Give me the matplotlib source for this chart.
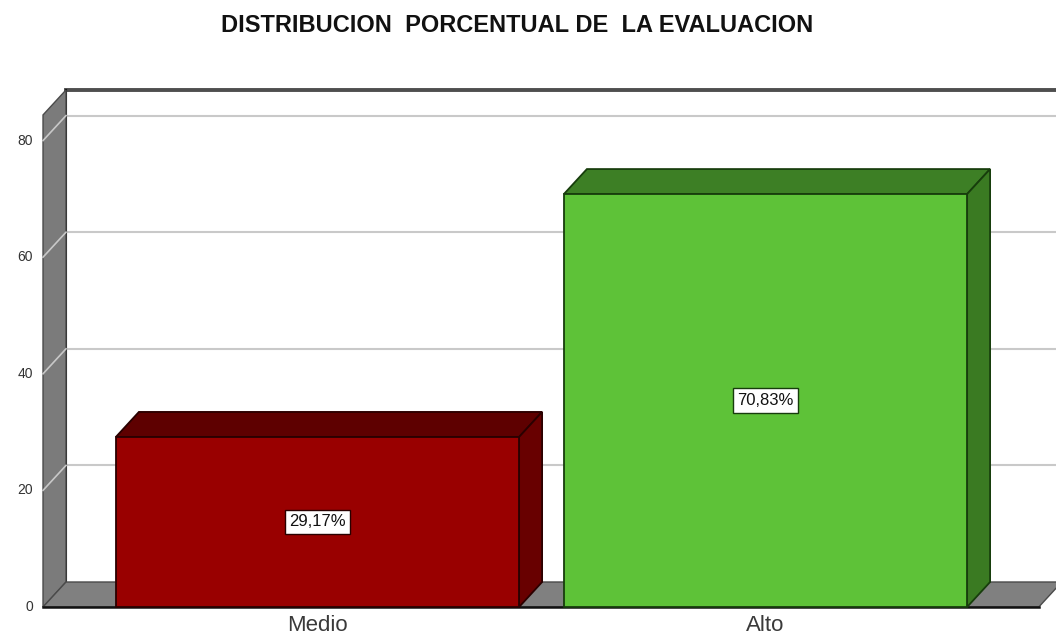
import matplotlib
matplotlib.use('Agg')
import matplotlib.pyplot as plt
from matplotlib.patches import Polygon
import numpy as np

matplotlib.rcParams['font.family'] = ['Liberation Sans', 'DejaVu Sans']

title = 'DISTRIBUCION  PORCENTUAL DE  LA EVALUACION'
categories = ['Medio', 'Alto']
percentages = [29.17, 70.83]
yticks = [0, 20, 40, 60, 80]

front_colors = ['#990000', '#5ec238']
top_colors = ['#5e0000', '#3d7f25']
side_colors = ['#680000', '#3a7a22']
edge_colors = ['#2a0000', '#173d0c']

# layout (data units; one category step = 448 px, one percent = 5.83 px)
PX_X, PX_Y = 448.0, 5.83
BAR_W = 0.9
DX, DY = 23 / PX_X, 25 / PX_Y
X_LEFT, X_RIGHT = -0.6127, 1.61
Y_TOP = 84.4


def box3d(ax, x0, x1, h, front, top, side, edge, zorder=5):
    faces = [
        ([(x0, h), (x1, h), (x1 + DX, h + DY), (x0 + DX, h + DY)], top),
        ([(x1, 0), (x1 + DX, DY), (x1 + DX, h + DY), (x1, h)], side),
        ([(x0, 0), (x1, 0), (x1, h), (x0, h)], front),
    ]
    for pts, c in faces:
        ax.add_patch(Polygon(pts, closed=True, fc=c, ec=edge, lw=1.3,
                             joinstyle='miter', zorder=zorder))


def main():
    fig = plt.figure(figsize=(10.56, 6.44), dpi=100)
    ax = fig.add_axes([0, 0, 1, 1])
    ax.set_xlim(-317.5 / PX_X, (1056 - 317.5) / PX_X)
    ax.set_ylim(-37 / PX_Y, 607 / PX_Y)
    ax.axis('off')

    # back plane
    ax.add_patch(Polygon([(X_LEFT + DX, DY), (X_RIGHT + DX, DY),
                          (X_RIGHT + DX, Y_TOP + DY), (X_LEFT + DX, Y_TOP + DY)],
                         closed=True, fc='white', ec='none', zorder=1))
    for v in yticks[1:]:
        ax.plot([X_LEFT + DX, X_RIGHT + DX], [v + DY, v + DY], color='#c9c9c9', lw=1.5, zorder=2)
    ax.plot([X_LEFT + DX, X_RIGHT + DX + 0.2], [Y_TOP + DY, Y_TOP + DY],
            color='#4e4e4e', lw=2.8, zorder=2)
    ax.plot([X_LEFT + DX, X_LEFT + DX], [DY, Y_TOP + DY], color='#111111', lw=1.5, zorder=2)

    # left wall
    ax.add_patch(Polygon([(X_LEFT, 0), (X_LEFT + DX, DY), (X_LEFT + DX, Y_TOP + DY), (X_LEFT, Y_TOP)],
                         closed=True, fc='#7b7b7b', ec='#4a4a4a', lw=1, zorder=3))
    for v in yticks[1:]:
        ax.plot([X_LEFT, X_LEFT + DX], [v, v + DY], color='#c8c8c8', lw=1.2, zorder=3)

    # floor
    ax.add_patch(Polygon([(X_LEFT, 0), (X_RIGHT, 0), (X_RIGHT + DX, DY), (X_LEFT + DX, DY)],
                         closed=True, fc='#808080', ec='#4a4a4a', lw=1, zorder=3))
    ax.plot([X_LEFT, X_RIGHT], [0, 0], color='#111111', lw=1.8, zorder=4)

    # bars
    x = np.arange(len(categories))
    for i, v in enumerate(percentages):
        box3d(ax, x[i] - BAR_W / 2, x[i] + BAR_W / 2, v,
              front_colors[i], top_colors[i], side_colors[i], edge_colors[i])
        label = ('%.2f' % v).replace('.', ',') + '%'
        ax.text(x[i], v / 2, label, ha='center', va='center', fontsize=12, color='#111111', zorder=6,
                bbox=dict(boxstyle='square,pad=0.28', fc='white', ec=edge_colors[i], lw=1))
        ax.text(x[i], -24 / PX_Y, categories[i], ha='center', va='baseline',
                fontsize=16, color='#3a3a3a', zorder=6)

    for v in yticks:
        ax.text(X_LEFT - 10 / PX_X, v, str(v), ha='right', va='center',
                fontsize=10, color='#333333', zorder=6)

    fig.text(517 / 1056, 1 - 32 / 644, title, ha='center', va='baseline',
             fontsize=17, fontweight='bold', color='#111111')

    fig.savefig('out.png', dpi=100)


if __name__ == '__main__':
    main()
